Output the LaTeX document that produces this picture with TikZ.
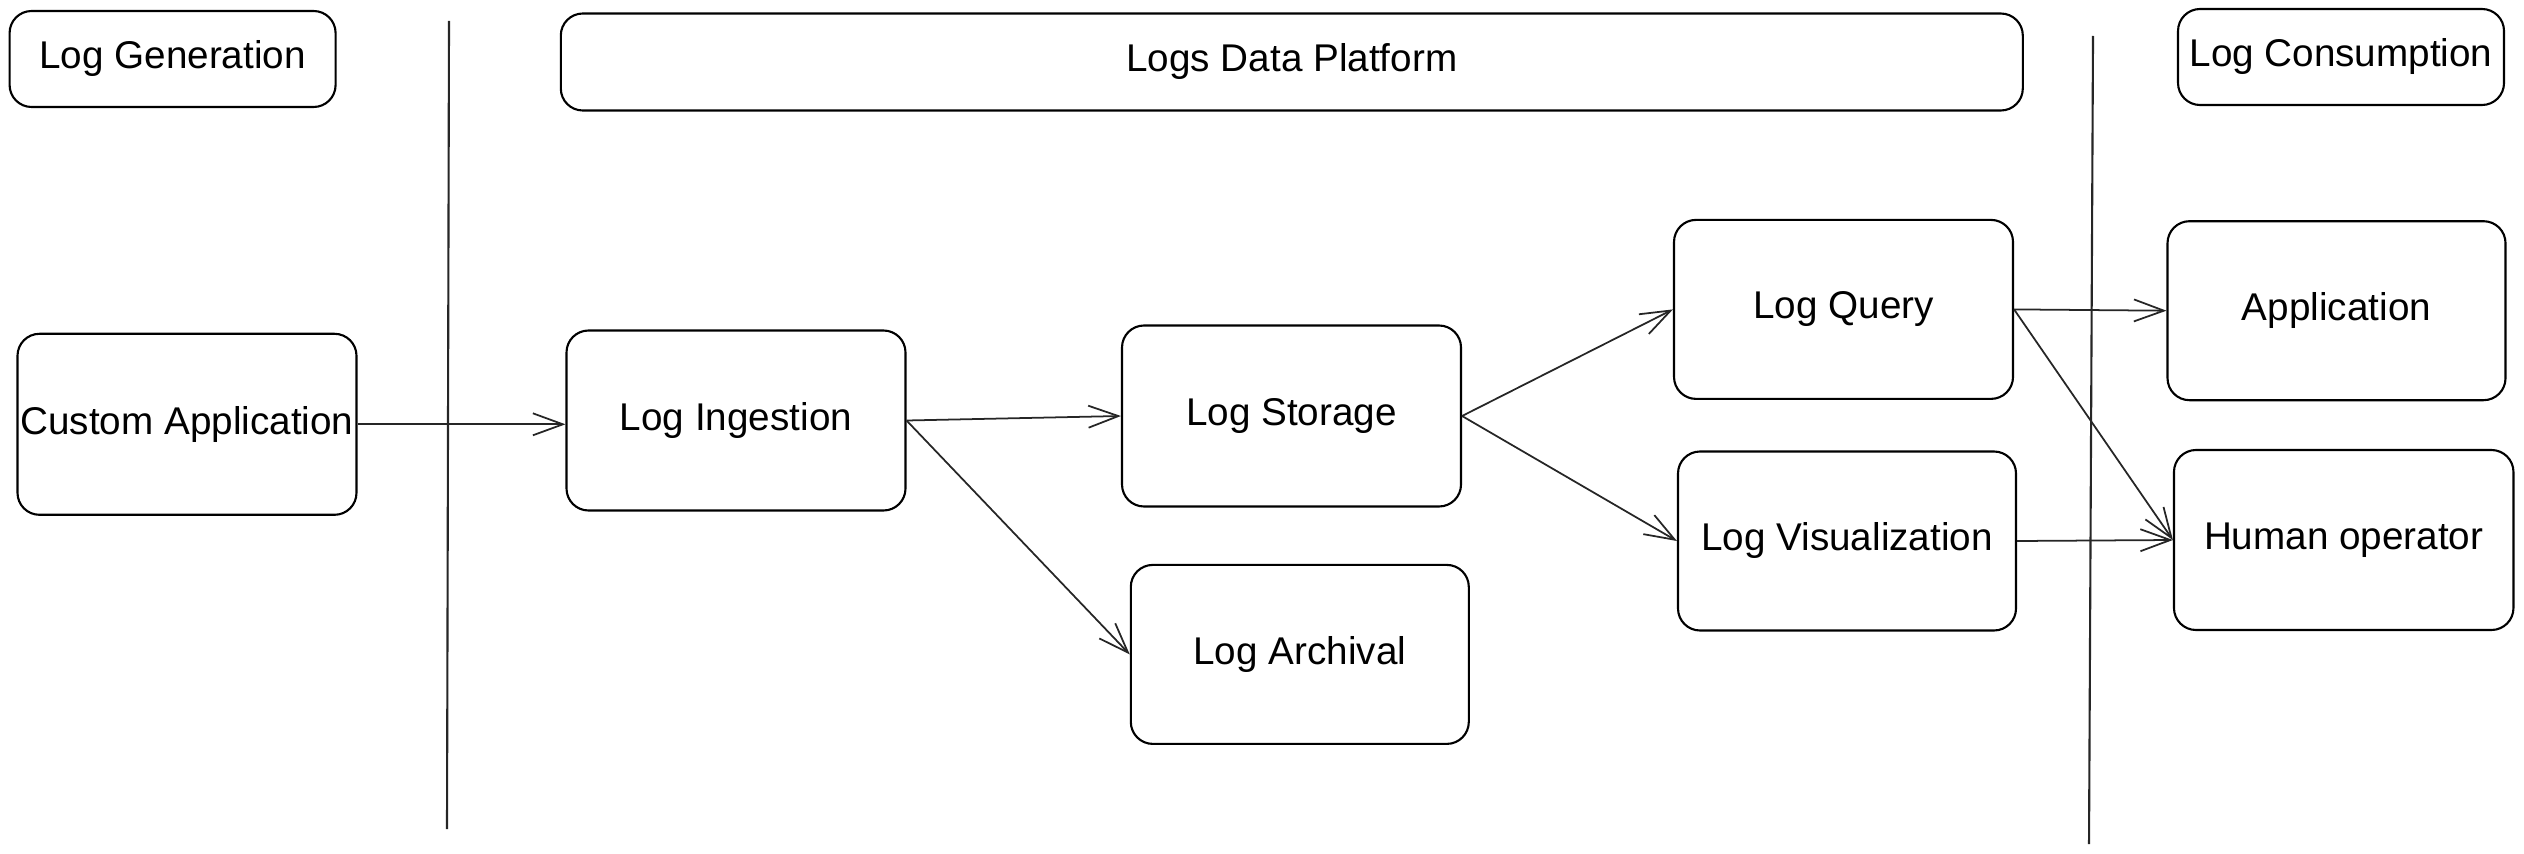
\documentclass[tikz,border=0pt]{standalone}
\usepackage{fontspec}
\setmainfont{Liberation Sans}
\usetikzlibrary{arrows.meta}
\tikzset{
  box/.style={draw=black, line width=0.6pt, rounded corners=2.2mm, inner sep=0pt,
    align=center, font=\fontsize{11pt}{13pt}\selectfont},
  conn/.style={draw=black!85, line width=0.5pt, -{Straight Barb[length=3mm,width=2.2mm]}},
  divider/.style={draw=black!85, line width=0.6pt}
}
\begin{document}
\begin{tikzpicture}[x=0.1mm, y=-0.1mm]
\useasboundingbox (0,0) rectangle (2524,854);
% headers
\node[box, minimum width=32.6mm, minimum height=9.6mm] (gen) at (172.6,59) {Log Generation};
\node[box, minimum width=146.2mm, minimum height=9.7mm] (ldp) at (1291.8,62) {Logs Data Platform};
\node[box, minimum width=32.6mm, minimum height=9.6mm] (cons) at (2341,57) {Log Consumption};
% dividers
\coordinate (l1t) at (449,21);
\coordinate (l1b) at (447,829);
\coordinate (l2t) at (2093,36);
\coordinate (l2b) at (2089,844);
\draw[divider] (l1t) -- (l1b);
\draw[divider] (l2t) -- (l2b);
% nodes
\node[box, minimum width=33.9mm, minimum height=18.1mm] (ca) at (187,424.3) {Custom Application};
\node[box, minimum width=33.9mm, minimum height=18mm] (ing) at (736,420.5) {Log Ingestion};
\node[box, minimum width=33.9mm, minimum height=18.1mm] (sto) at (1291.5,416) {Log Storage};
\node[box, minimum width=33.8mm, minimum height=17.9mm] (arc) at (1299.8,654.4) {Log Archival};
\node[box, minimum width=33.9mm, minimum height=17.9mm] (qry) at (1843.5,309.4) {Log Query};
\node[box, minimum width=33.8mm, minimum height=17.9mm] (vis) at (1847,541) {Log Visualization};
\node[box, minimum width=33.8mm, minimum height=17.9mm] (app) at (2336.5,310.7) {Application};
\node[box, minimum width=33.95mm, minimum height=18mm] (hum) at (2343.7,540) {Human operator};
% connectors
\draw[conn] (ca.east) -- (ca.east -| ing.west);
\draw[conn] (ing.east) -- (sto.west);
\draw[conn] (ing.east) -- (arc.west);
\draw[conn] (sto.east) -- (qry.west);
\draw[conn] (sto.east) -- (vis.west);
\draw[conn] (qry.east) -- (app.west);
\draw[conn] (qry.east) -- (hum.west);
\draw[conn] (vis.east) -- (hum.west);
\end{tikzpicture}
\end{document}
